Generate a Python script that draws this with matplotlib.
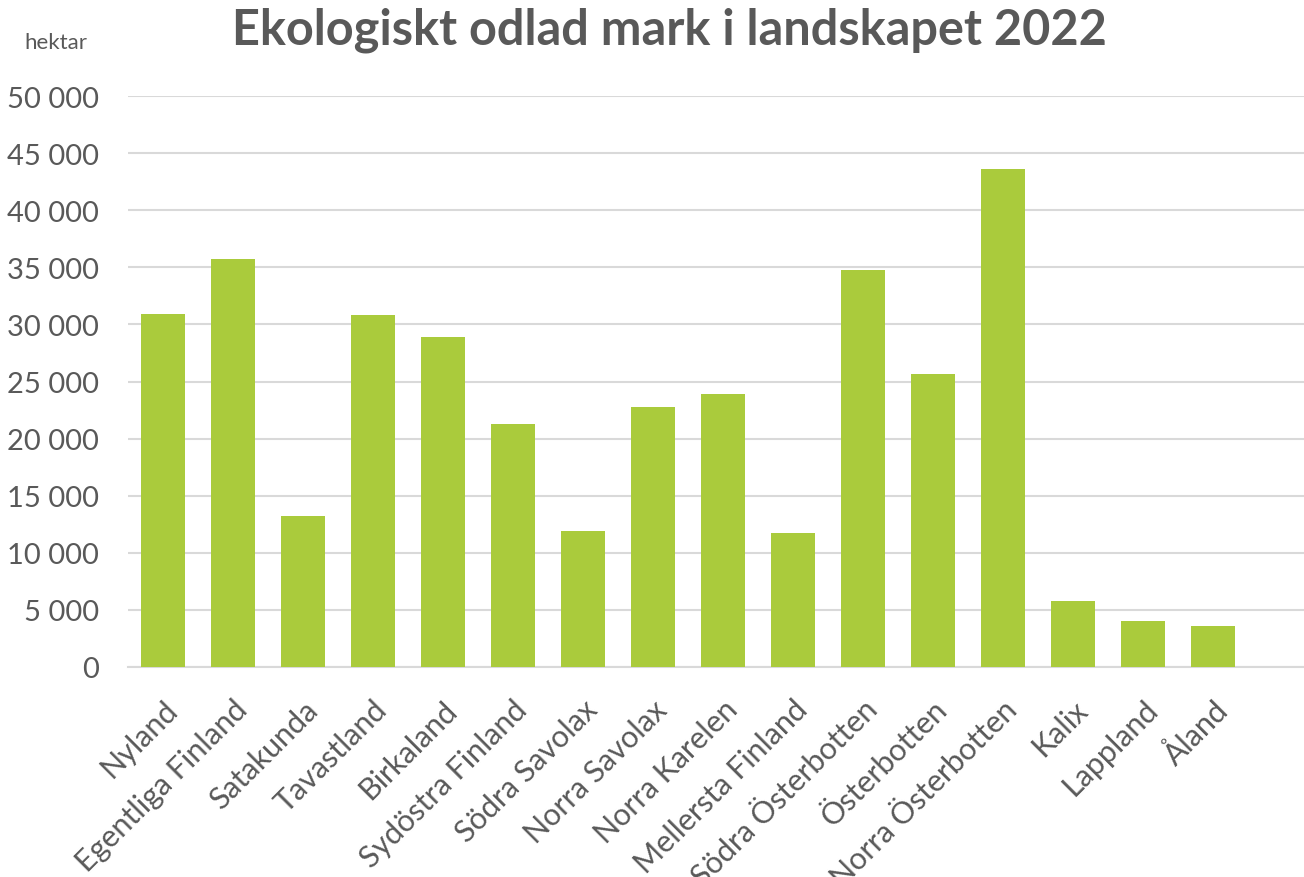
import matplotlib.pyplot as plt
from matplotlib.ticker import FuncFormatter

plt.rcParams['font.family'] = ['Lato', 'DejaVu Sans']

regions = ['Nyland', 'Egentliga Finland', 'Satakunda', 'Tavastland', 'Birkaland',
           'Sydöstra Finland', 'Södra Savolax', 'Norra Savolax', 'Norra Karelen',
           'Mellersta Finland', 'Södra Österbotten', 'Österbotten', 'Norra Österbotten',
           'Kalix', 'Lappland', 'Åland']
hektar = [30900, 35700, 13250, 30800, 28900, 21250, 11950, 22750, 23900,
          11750, 34800, 25650, 43600, 5780, 4050, 3550]

grey = '#595959'

fig = plt.figure(figsize=(13.04, 8.78), dpi=100)
ax = fig.add_axes([128 / 1304, 1 - 668 / 878, (1304 - 128) / 1304, (668 - 97) / 878])

x = range(len(regions))
ax.bar(x, hektar, width=0.64, color='#aacb3c', zorder=3)

ax.set_ylim(0, 50000)
ax.set_xlim(-0.5, 16.3)
ax.set_yticks(range(0, 50001, 5000))
ax.yaxis.set_major_formatter(FuncFormatter(lambda v, p: f'{int(v):,}'.replace(',', ' ')))
ax.grid(axis='y', color='#d9d9d9', linewidth=1.5, zorder=0)
for s in ['top', 'right', 'left']:
    ax.spines[s].set_visible(False)
ax.spines['bottom'].set_color('#d9d9d9')
ax.spines['bottom'].set_linewidth(1.5)
ax.tick_params(axis='both', length=0, labelsize=21, labelcolor=grey)
ax.tick_params(axis='y', pad=21)
ax.set_xticks(list(x))
ax.set_xticklabels(regions, rotation=45, ha='right', rotation_mode='anchor', fontsize=22)
ax.tick_params(axis='x', pad=20)

fig.text(0.513, 0.965, 'Ekologiskt odlad mark i landskapet 2022', ha='center', va='center',
         fontsize=35, fontweight='bold', color=grey)
fig.text(56 / 1304, 1 - 43 / 878, 'hektar', ha='center', va='center', fontsize=16, color=grey)

fig.savefig('out.png', dpi=100)
